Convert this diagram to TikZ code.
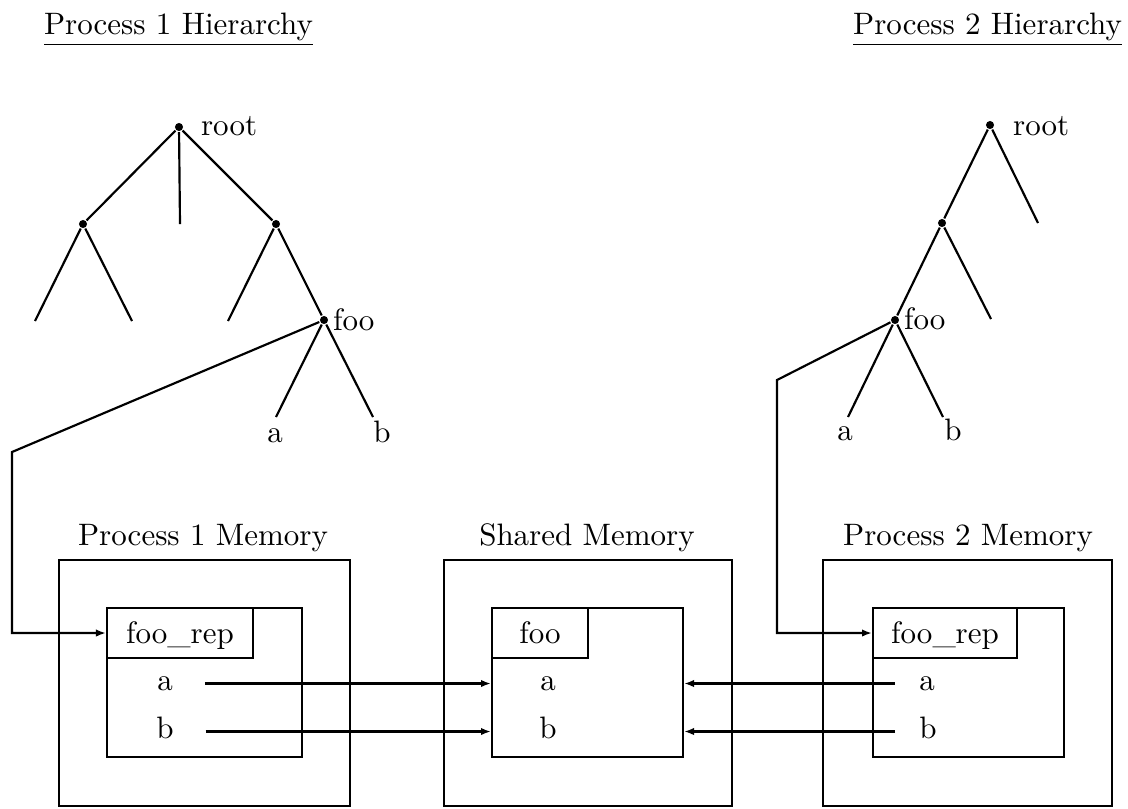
\documentclass[tikz,border=0pt]{standalone}
\usetikzlibrary{arrows.meta,fit}
\begin{document}
\begin{tikzpicture}[x=0.3226pt,y=-0.3226pt,line width=0.7pt,
  dot/.style={circle,fill,inner sep=0pt,minimum size=2.6pt},
  txt/.style={inner sep=0pt,anchor=base},
  box/.style={draw,inner sep=0pt},
  ptr/.style={-{Latex[length=3.2pt,width=2.4pt]}}]
\useasboundingbox (0,0) rectangle (1128,808);

% headings
\node[txt,anchor=base west] (t1) at (43,34) {\underline{Process 1 Hierarchy}};
\node[txt,anchor=base east] (t2) at (1123,34) {\underline{Process 2 Hierarchy}};

% ---- hierarchy of process 1
\node[dot] (r1) at (179,127) {};
\node[dot] (l1) at (83,224) {};
\node[dot] (m1) at (276,224) {};
\node[dot] (f1) at (324,320) {};
\coordinate (r1c) at (180,224);
\coordinate (l1a) at (35,321);
\coordinate (l1b) at (132,321);
\coordinate (m1a) at (228,321);
\coordinate (f1a) at (276,417);
\coordinate (f1b) at (373,417);
\draw (r1) -- (l1) (r1) -- (r1c) (r1) -- (m1)
      (l1) -- (l1a) (l1) -- (l1b)
      (m1) -- (m1a) (m1) -- (f1)
      (f1) -- (f1a) (f1) -- (f1b);
\node[txt,anchor=base west] (r1t) at (200,135) {root};
\node[txt,anchor=base west] (f1t) at (332,330) {foo};
\node[txt] (f1at) at (275,442) {a};
\node[txt] (f1bt) at (382,442) {b};

% ---- hierarchy of process 2
\node[dot] (r2) at (990,125) {};
\node[dot] (n2) at (942,223) {};
\node[dot] (f2) at (895,320) {};
\coordinate (r2b) at (1038,223);
\coordinate (n2b) at (991,319);
\coordinate (f2a) at (848,417);
\coordinate (f2b) at (943,417);
\draw (r2) -- (n2) (r2) -- (r2b)
      (n2) -- (f2) (n2) -- (n2b)
      (f2) -- (f2a) (f2) -- (f2b);
\node[txt,anchor=base west] (r2t) at (1012,135) {root};
\node[txt,anchor=base west] (f2t) at (903,329) {foo};
\node[txt] (f2at) at (845,440) {a};
\node[txt] (f2bt) at (953,440) {b};

% ---- memories
\node[txt] (p1h) at (203,545) {Process 1 Memory};
\node[txt] (shh) at (587,545) {Shared Memory};
\node[txt] (p2h) at (968,545) {Process 2 Memory};

\node[box,fit={(59,560) (350,806)}] (p1out) {};
\node[box,fit={(107,608) (302,757)}] (p1in) {};
\node[box,fit={(107,608) (253,658)}] (p1rep) {};
\node[box,fit={(444,560) (732,806)}] (shout) {};
\node[box,fit={(492,608) (683,757)}] (shin) {};
\node[box,fit={(492,608) (588,658)}] (shfoo) {};
\node[box,fit={(823,560) (1112,806)}] (p2out) {};
\node[box,fit={(873,608) (1064,757)}] (p2in) {};
\node[box,fit={(873,608) (1017,658)}] (p2rep) {};

\node[txt] (p1rept) at (180,643) {foo\_rep};
\node[txt] (shfoot) at (540,643) {foo};
\node[txt] (p2rept) at (945,643) {foo\_rep};

\node[txt] (p1a) at (165,690) {a};
\node[txt] (p1b) at (165,738) {b};
\node[txt] (sha) at (548,690) {a};
\node[txt] (shb) at (548,738) {b};
\node[txt] (p2a) at (927,690) {a};
\node[txt] (p2b) at (928,738) {b};

% fields pointing into shared memory
\coordinate (p1ao) at ([xshift=10pt,yshift=2.1pt]p1a.base east);
\coordinate (p1bo) at ([xshift=10pt,yshift=2.1pt]p1b.base east);
\coordinate (p2ao) at ([xshift=-7.5pt,yshift=2.1pt]p2a.base west);
\coordinate (p2bo) at ([xshift=-7.5pt,yshift=2.1pt]p2b.base west);
\draw[ptr] (p1ao) -- (p1ao -| shin.west);
\draw[ptr] (p1bo) -- (p1bo -| shin.west);
\draw[ptr] (p2ao) -- (p2ao -| shin.east);
\draw[ptr] (p2bo) -- (p2bo -| shin.east);

% tree nodes pointing at their representations
\coordinate (k1) at (12,452);
\coordinate (k2) at (777,380);
\draw[ptr] (f1) -- (k1) |- (p1rep.west);
\draw[ptr] (f2) -- (k2) |- (p2rep.west);
\end{tikzpicture}
\end{document}
